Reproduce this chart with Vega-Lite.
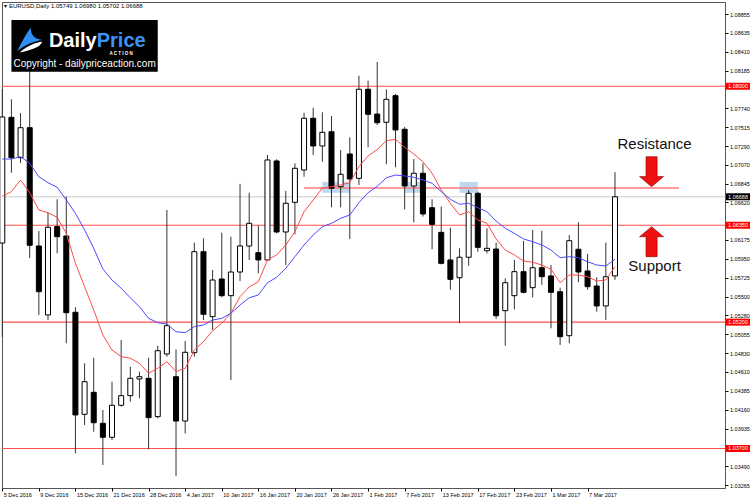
{
  "$schema": "https://vega.github.io/schema/vega-lite/v6.json",
  "width": 723,
  "height": 486,
  "autosize": {"type": "none"},
  "padding": {"left": 2, "top": 2, "right": 25, "bottom": 12},
  "background": "white",
  "config": {
    "view": {"stroke": "#555555", "strokeWidth": 1},
    "font": "Liberation Sans",
    "axis": {"domain": false, "grid": false, "labelFont": "Liberation Sans", "labelOverlap": false, "labelBound": false, "labelFlush": false},
    "text": {"font": "Liberation Sans"}
  },
  "datasets": {
    "ohlc": [
      {"d": "5 Dec 2016", "o": 1.06139, "h": 1.07967, "l": 1.05024, "c": 1.07635, "f": 1.06694, "s": 1.07136},
      {"d": "6 Dec 2016", "o": 1.07631, "h": 1.07845, "l": 1.06974, "c": 1.07152, "f": 1.06748, "s": 1.07136},
      {"d": "7 Dec 2016", "o": 1.07152, "h": 1.07682, "l": 1.07089, "c": 1.07508, "f": 1.06887, "s": 1.07164},
      {"d": "8 Dec 2016", "o": 1.07508, "h": 1.0874, "l": 1.05961, "c": 1.06112, "f": 1.06736, "s": 1.07085},
      {"d": "9 Dec 2016", "o": 1.06104, "h": 1.06282, "l": 1.05285, "c": 1.05561, "f": 1.06531, "s": 1.06926},
      {"d": "12 Dec 2016", "o": 1.05285, "h": 1.06499, "l": 1.05225, "c": 1.06326, "f": 1.06499, "s": 1.06855},
      {"d": "13 Dec 2016", "o": 1.06333, "h": 1.06658, "l": 1.06017, "c": 1.06214, "f": 1.06444, "s": 1.06801},
      {"d": "14 Dec 2016", "o": 1.06222, "h": 1.06689, "l": 1.04949, "c": 1.05312, "f": 1.06254, "s": 1.0665},
      {"d": "15 Dec 2016", "o": 1.05317, "h": 1.05376, "l": 1.03643, "c": 1.04098, "f": 1.05898, "s": 1.06492},
      {"d": "16 Dec 2016", "o": 1.04106, "h": 1.04711, "l": 1.03979, "c": 1.04493, "f": 1.05621, "s": 1.06294},
      {"d": "19 Dec 2016", "o": 1.04367, "h": 1.04778, "l": 1.03899, "c": 1.04006, "f": 1.05344, "s": 1.06076},
      {"d": "20 Dec 2016", "o": 1.03999, "h": 1.04157, "l": 1.03504, "c": 1.03833, "f": 1.05047, "s": 1.05831},
      {"d": "21 Dec 2016", "o": 1.03833, "h": 1.04493, "l": 1.03801, "c": 1.04213, "f": 1.04869, "s": 1.057},
      {"d": "22 Dec 2016", "o": 1.04213, "h": 1.04988, "l": 1.04196, "c": 1.04327, "f": 1.0479, "s": 1.05602},
      {"d": "23 Dec 2016", "o": 1.04327, "h": 1.04671, "l": 1.04256, "c": 1.04533, "f": 1.04771, "s": 1.05489},
      {"d": "27 Dec 2016", "o": 1.04525, "h": 1.04612, "l": 1.04296, "c": 1.04552, "f": 1.04711, "s": 1.05383},
      {"d": "28 Dec 2016", "o": 1.04533, "h": 1.04778, "l": 1.03691, "c": 1.04066, "f": 1.04593, "s": 1.05245},
      {"d": "29 Dec 2016", "o": 1.04078, "h": 1.0492, "l": 1.04059, "c": 1.04861, "f": 1.04652, "s": 1.05193},
      {"d": "30 Dec 2016", "o": 1.04822, "h": 1.06531, "l": 1.0479, "c": 1.05158, "f": 1.0473, "s": 1.05178},
      {"d": "3 Jan 2017", "o": 1.04552, "h": 1.04877, "l": 1.03374, "c": 1.04026, "f": 1.04612, "s": 1.05086},
      {"d": "4 Jan 2017", "o": 1.04026, "h": 1.04976, "l": 1.0388, "c": 1.04842, "f": 1.04652, "s": 1.05075},
      {"d": "5 Jan 2017", "o": 1.04837, "h": 1.06143, "l": 1.0479, "c": 1.06036, "f": 1.04869, "s": 1.05146},
      {"d": "6 Jan 2017", "o": 1.06036, "h": 1.06195, "l": 1.05225, "c": 1.05293, "f": 1.04968, "s": 1.05166},
      {"d": "9 Jan 2017", "o": 1.05265, "h": 1.05819, "l": 1.05107, "c": 1.057, "f": 1.05098, "s": 1.05225},
      {"d": "10 Jan 2017", "o": 1.05712, "h": 1.06262, "l": 1.05495, "c": 1.05514, "f": 1.05186, "s": 1.05245},
      {"d": "11 Jan 2017", "o": 1.05514, "h": 1.06214, "l": 1.04513, "c": 1.05795, "f": 1.05305, "s": 1.05305},
      {"d": "12 Jan 2017", "o": 1.05795, "h": 1.0684, "l": 1.05688, "c": 1.06104, "f": 1.05502, "s": 1.05403},
      {"d": "13 Jan 2017", "o": 1.06104, "h": 1.06736, "l": 1.05938, "c": 1.06373, "f": 1.05617, "s": 1.05489},
      {"d": "16 Jan 2017", "o": 1.06024, "h": 1.06345, "l": 1.0578, "c": 1.05938, "f": 1.0568, "s": 1.05522},
      {"d": "17 Jan 2017", "o": 1.05938, "h": 1.07184, "l": 1.05926, "c": 1.07125, "f": 1.05938, "s": 1.05668},
      {"d": "18 Jan 2017", "o": 1.07113, "h": 1.07133, "l": 1.06254, "c": 1.0627, "f": 1.05997, "s": 1.05732},
      {"d": "19 Jan 2017", "o": 1.0627, "h": 1.06757, "l": 1.05878, "c": 1.06611, "f": 1.06116, "s": 1.05839},
      {"d": "20 Jan 2017", "o": 1.06622, "h": 1.07085, "l": 1.06243, "c": 1.07026, "f": 1.06273, "s": 1.05977},
      {"d": "23 Jan 2017", "o": 1.07006, "h": 1.07686, "l": 1.06926, "c": 1.0762, "f": 1.06511, "s": 1.06116},
      {"d": "24 Jan 2017", "o": 1.0762, "h": 1.07745, "l": 1.07184, "c": 1.07291, "f": 1.0665, "s": 1.06234},
      {"d": "25 Jan 2017", "o": 1.07291, "h": 1.07691, "l": 1.07104, "c": 1.07453, "f": 1.0679, "s": 1.06333},
      {"d": "26 Jan 2017", "o": 1.0746, "h": 1.07647, "l": 1.06563, "c": 1.06789, "f": 1.06808, "s": 1.06373},
      {"d": "27 Jan 2017", "o": 1.06808, "h": 1.07243, "l": 1.06563, "c": 1.06955, "f": 1.06828, "s": 1.06432},
      {"d": "30 Jan 2017", "o": 1.07196, "h": 1.07394, "l": 1.06187, "c": 1.06899, "f": 1.06855, "s": 1.06472},
      {"d": "31 Jan 2017", "o": 1.06907, "h": 1.08125, "l": 1.06828, "c": 1.07964, "f": 1.07045, "s": 1.06618},
      {"d": "1 Feb 2017", "o": 1.07964, "h": 1.08066, "l": 1.07275, "c": 1.07667, "f": 1.07172, "s": 1.06736},
      {"d": "2 Feb 2017", "o": 1.0767, "h": 1.08288, "l": 1.0754, "c": 1.07567, "f": 1.07249, "s": 1.06812},
      {"d": "3 Feb 2017", "o": 1.07572, "h": 1.07964, "l": 1.07074, "c": 1.07845, "f": 1.07354, "s": 1.06914},
      {"d": "6 Feb 2017", "o": 1.07888, "h": 1.07908, "l": 1.07038, "c": 1.07481, "f": 1.0737, "s": 1.06946},
      {"d": "7 Feb 2017", "o": 1.07489, "h": 1.07516, "l": 1.06539, "c": 1.06816, "f": 1.07275, "s": 1.06935},
      {"d": "8 Feb 2017", "o": 1.06816, "h": 1.07136, "l": 1.06385, "c": 1.06967, "f": 1.07196, "s": 1.06919},
      {"d": "9 Feb 2017", "o": 1.06967, "h": 1.07085, "l": 1.06452, "c": 1.06484, "f": 1.07104, "s": 1.06887},
      {"d": "10 Feb 2017", "o": 1.06558, "h": 1.06658, "l": 1.06065, "c": 1.06361, "f": 1.06967, "s": 1.06848},
      {"d": "13 Feb 2017", "o": 1.06266, "h": 1.0657, "l": 1.05885, "c": 1.05898, "f": 1.06768, "s": 1.06748},
      {"d": "14 Feb 2017", "o": 1.05938, "h": 1.06321, "l": 1.05585, "c": 1.05708, "f": 1.06611, "s": 1.06658},
      {"d": "15 Feb 2017", "o": 1.05727, "h": 1.06076, "l": 1.05186, "c": 1.0597, "f": 1.06472, "s": 1.06599},
      {"d": "16 Feb 2017", "o": 1.0597, "h": 1.06768, "l": 1.0587, "c": 1.06729, "f": 1.06511, "s": 1.06611},
      {"d": "17 Feb 2017", "o": 1.06729, "h": 1.06748, "l": 1.06036, "c": 1.06088, "f": 1.06412, "s": 1.06558},
      {"d": "20 Feb 2017", "o": 1.06048, "h": 1.06314, "l": 1.06017, "c": 1.06076, "f": 1.06373, "s": 1.06511},
      {"d": "21 Feb 2017", "o": 1.06068, "h": 1.06143, "l": 1.05237, "c": 1.05276, "f": 1.06187, "s": 1.064},
      {"d": "22 Feb 2017", "o": 1.05336, "h": 1.0572, "l": 1.0492, "c": 1.05668, "f": 1.06056, "s": 1.06314},
      {"d": "23 Feb 2017", "o": 1.05514, "h": 1.05938, "l": 1.05352, "c": 1.05799, "f": 1.05997, "s": 1.06254},
      {"d": "24 Feb 2017", "o": 1.05799, "h": 1.06163, "l": 1.05542, "c": 1.05554, "f": 1.05926, "s": 1.06187},
      {"d": "27 Feb 2017", "o": 1.05609, "h": 1.06294, "l": 1.05495, "c": 1.05846, "f": 1.0591, "s": 1.06155},
      {"d": "28 Feb 2017", "o": 1.05846, "h": 1.06285, "l": 1.05641, "c": 1.05739, "f": 1.05878, "s": 1.06116},
      {"d": "1 Mar 2017", "o": 1.05748, "h": 1.05878, "l": 1.05127, "c": 1.05554, "f": 1.05827, "s": 1.06056},
      {"d": "2 Mar 2017", "o": 1.05561, "h": 1.05609, "l": 1.04929, "c": 1.05027, "f": 1.05668, "s": 1.05965},
      {"d": "3 Mar 2017", "o": 1.05039, "h": 1.06234, "l": 1.04949, "c": 1.06167, "f": 1.05759, "s": 1.05977},
      {"d": "6 Mar 2017", "o": 1.06065, "h": 1.06385, "l": 1.05673, "c": 1.05795, "f": 1.05759, "s": 1.05965},
      {"d": "7 Mar 2017", "o": 1.05807, "h": 1.06009, "l": 1.05585, "c": 1.05621, "f": 1.05739, "s": 1.05917},
      {"d": "8 Mar 2017", "o": 1.05629, "h": 1.05732, "l": 1.05324, "c": 1.05392, "f": 1.05688, "s": 1.05878},
      {"d": "9 Mar 2017", "o": 1.05392, "h": 1.06143, "l": 1.05225, "c": 1.05739, "f": 1.057, "s": 1.05866},
      {"d": "10 Mar 2017", "o": 1.05749, "h": 1.0698, "l": 1.05702, "c": 1.06688, "f": 1.05858, "s": 1.05946}
    ]
  },
  "resolve": {"scale": {"x": "independent"}},
  "layer": [
    {
      "layer": [
        {
          "data": {"values": [{"lv": 1.08}, {"lv": 1.0635}, {"lv": 1.052}, {"lv": 1.037}]},
          "mark": {"type": "rule", "color": "#ff4d4d", "strokeWidth": 1.2},
          "encoding": {"y": {"field": "lv", "type": "quantitative", "title": null}}
        },
        {
          "data": {"values": [{}]},
          "mark": {"type": "rule", "color": "#cccccc", "strokeWidth": 1},
          "encoding": {"y": {"datum": 1.06688, "title": null}}
        },
        {
          "data": {"values": [{"a": "25 Jan 2017", "b": "30 Jan 2017"}, {"a": "7 Feb 2017", "b": "9 Feb 2017"}, {"a": "15 Feb 2017", "b": "17 Feb 2017"}]},
          "mark": {"type": "rect", "color": "#bdd9f1"},
          "encoding": {
            "x": {"field": "a", "type": "ordinal", "title": null},
            "x2": {"field": "b"},
            "y": {"datum": 1.06865, "title": null},
            "y2": {"datum": 1.06735}
          }
        },
        {
          "data": {"values": [{}]},
          "mark": {"type": "rule", "color": "#ff7a7a", "strokeWidth": 1.3},
          "encoding": {
            "x": {"datum": "23 Jan 2017", "type": "ordinal", "title": null},
            "x2": {"datum": "21 Mar 2017"},
            "y": {"datum": 1.06792, "title": null}
          }
        },
        {
          "data": {"name": "ohlc"},
          "mark": {"type": "rule", "color": "#333333", "strokeWidth": 1},
          "encoding": {
            "x": {
              "field": "d", "type": "ordinal", "title": null,
              "scale": {
                "type": "point", "padding": 0.03, "round": false,
                "domain": ["5 Dec 2016","6 Dec 2016","7 Dec 2016","8 Dec 2016","9 Dec 2016","12 Dec 2016","13 Dec 2016","14 Dec 2016","15 Dec 2016","16 Dec 2016","19 Dec 2016","20 Dec 2016","21 Dec 2016","22 Dec 2016","23 Dec 2016","27 Dec 2016","28 Dec 2016","29 Dec 2016","30 Dec 2016","3 Jan 2017","4 Jan 2017","5 Jan 2017","6 Jan 2017","9 Jan 2017","10 Jan 2017","11 Jan 2017","12 Jan 2017","13 Jan 2017","16 Jan 2017","17 Jan 2017","18 Jan 2017","19 Jan 2017","20 Jan 2017","23 Jan 2017","24 Jan 2017","25 Jan 2017","26 Jan 2017","27 Jan 2017","30 Jan 2017","31 Jan 2017","1 Feb 2017","2 Feb 2017","3 Feb 2017","6 Feb 2017","7 Feb 2017","8 Feb 2017","9 Feb 2017","10 Feb 2017","13 Feb 2017","14 Feb 2017","15 Feb 2017","16 Feb 2017","17 Feb 2017","20 Feb 2017","21 Feb 2017","22 Feb 2017","23 Feb 2017","24 Feb 2017","27 Feb 2017","28 Feb 2017","1 Mar 2017","2 Mar 2017","3 Mar 2017","6 Mar 2017","7 Mar 2017","8 Mar 2017","9 Mar 2017","10 Mar 2017","13 Mar 2017","14 Mar 2017","15 Mar 2017","16 Mar 2017","17 Mar 2017","20 Mar 2017","21 Mar 2017","22 Mar 2017","23 Mar 2017","24 Mar 2017","27 Mar 2017","28 Mar 2017"]
              },
              "axis": {
                "values": ["5 Dec 2016","9 Dec 2016","15 Dec 2016","21 Dec 2016","28 Dec 2016","4 Jan 2017","10 Jan 2017","16 Jan 2017","20 Jan 2017","26 Jan 2017","1 Feb 2017","7 Feb 2017","13 Feb 2017","17 Feb 2017","23 Feb 2017","1 Mar 2017","7 Mar 2017"],
                "labelAlign": "left", "labelBaseline": "top", "labelPadding": 1, "labelOffset": 1,
                "tickSize": 3, "labelFontSize": 5.5, "labelAngle": 0, "labelColor": "#000000",
                "tickColor": "#000000", "labelOverlap": false, "labelBound": false, "labelFlush": false, "tickCount": 100
              }
            },
            "y": {
              "field": "l", "type": "quantitative", "title": null,
              "scale": {"domain": [1.03231, 1.09], "nice": false, "zero": false},
              "axis": {
                "orient": "right",
                "values": [1.08855,1.08635,1.0841,1.08185,1.0774,1.07515,1.0729,1.0707,1.06845,1.0662,1.06175,1.0595,1.05725,1.055,1.0528,1.05055,1.0483,1.0461,1.04385,1.0416,1.03935,1.0349,1.03265],
                "tickCount": 100,
                "format": ".5f", "labelFontSize": 5.5, "tickSize": 3, "labelPadding": 1.5,
                "labelColor": "#000000", "tickColor": "#000000", "labelOverlap": false, "labelBound": false, "labelFlush": false
              }
            },
            "y2": {"field": "h"}
          }
        },
        {
          "data": {"name": "ohlc"},
          "mark": {"type": "bar", "size": 5, "stroke": "#000000", "strokeWidth": 1},
          "encoding": {
            "x": {"field": "d", "type": "ordinal", "title": null},
            "y": {"field": "o", "type": "quantitative", "title": null},
            "y2": {"field": "c"},
            "fill": {"condition": {"test": "datum.c >= datum.o", "value": "#ffffff"}, "value": "#000000"}
          }
        },
        {
          "data": {"name": "ohlc"},
          "mark": {"type": "line", "color": "#ff4a4a", "strokeWidth": 1},
          "encoding": {
            "x": {"field": "d", "type": "ordinal", "title": null},
            "y": {"field": "f", "type": "quantitative", "title": null}
          }
        },
        {
          "data": {"name": "ohlc"},
          "mark": {"type": "line", "color": "#4a4aff", "strokeWidth": 1},
          "encoding": {
            "x": {"field": "d", "type": "ordinal", "title": null},
            "y": {"field": "s", "type": "quantitative", "title": null}
          }
        },
        {
          "data": {"values": [{}]},
          "mark": {"type": "rect", "color": "#000000"},
          "encoding": {
            "x": {"datum": "6 Dec 2016", "type": "ordinal", "title": null},
            "x2": {"datum": "29 Dec 2016"},
            "y": {"datum": 1.08786, "title": null},
            "y2": {"datum": 1.08173}
          }
        },
        {
          "data": {"values": [{}]},
          "mark": {"type": "point", "shape": "M-1,0.9 C-0.7,0.3 -0.3,-0.5 0.1,-1 C0.05,-0.5 0.3,-0.1 1,0 C0.3,0.1 -0.4,0.4 -1,0.9 Z", "filled": true, "color": "#2f8ff5", "size": 625, "opacity": 1},
          "encoding": {
            "x": {"datum": "8 Dec 2016", "type": "ordinal", "title": null},
            "y": {"datum": 1.08549, "title": null}
          }
        },
        {
          "data": {"values": [{}]},
          "mark": {"type": "point", "shape": "M-0.8,1 C-0.2,0.45 0.5,0.2 1,0.15 C0.9,0.5 0.3,0.8 -0.8,1 Z", "filled": true, "color": "#ffffff", "size": 625, "opacity": 1},
          "encoding": {
            "x": {"datum": "8 Dec 2016", "type": "ordinal", "title": null},
            "y": {"datum": 1.08549, "title": null}
          }
        },
        {
          "data": {"values": [{}]},
          "mark": {"type": "text", "text": "Daily", "align": "right", "baseline": "alphabetic", "dx": 3, "fontSize": 20, "fontWeight": "bold", "color": "#ffffff"},
          "encoding": {
            "x": {"datum": "19 Dec 2016", "type": "ordinal", "title": null},
            "y": {"datum": 1.08466, "title": null}
          }
        },
        {
          "data": {"values": [{}]},
          "mark": {"type": "text", "text": "Price", "align": "left", "baseline": "alphabetic", "dx": 3, "fontSize": 20, "fontWeight": "bold", "color": "#3b95f5"},
          "encoding": {
            "x": {"datum": "19 Dec 2016", "type": "ordinal", "title": null},
            "y": {"datum": 1.08466, "title": null}
          }
        },
        {
          "data": {"values": [{}]},
          "mark": {"type": "text", "text": "A C T I O N", "align": "center", "baseline": "alphabetic", "fontSize": 4.5, "fontWeight": "bold", "color": "#ffffff"},
          "encoding": {
            "x": {"datum": "22 Dec 2016", "type": "ordinal", "title": null},
            "y": {"datum": 1.08372, "title": null}
          }
        },
        {
          "data": {"values": [{}]},
          "mark": {"type": "text", "text": "Copyright - dailypriceaction.com", "align": "center", "baseline": "alphabetic", "fontSize": 10, "color": "#ffffff"},
          "encoding": {
            "x": {"datum": "16 Dec 2016", "type": "ordinal", "title": null},
            "y": {"datum": 1.08228, "title": null}
          }
        },
        {
          "data": {"values": [{}]},
          "mark": {"type": "text", "text": "▾ EURUSD,Daily  1.05749 1.06980 1.05702 1.06688", "align": "left", "baseline": "middle", "dx": 2, "fontSize": 6, "color": "#000000"},
          "encoding": {
            "x": {"datum": "5 Dec 2016", "type": "ordinal", "title": null},
            "y": {"datum": 1.08953, "title": null}
          }
        },
        {
          "data": {"values": [{}]},
          "mark": {"type": "text", "text": "Resistance", "align": "center", "baseline": "alphabetic", "dx": 3, "fontSize": 15, "color": "#111111"},
          "encoding": {
            "x": {"datum": "16 Mar 2017", "type": "ordinal", "title": null},
            "y": {"datum": 1.07255, "title": null}
          }
        },
        {
          "data": {"values": [{}]},
          "mark": {"type": "text", "text": "Support", "align": "center", "baseline": "alphabetic", "dx": 3, "fontSize": 15, "color": "#111111"},
          "encoding": {
            "x": {"datum": "16 Mar 2017", "type": "ordinal", "title": null},
            "y": {"datum": 1.0581, "title": null}
          }
        },
        {
          "data": {"values": [{}]},
          "mark": {"type": "point", "shape": "M-0.37,-1 L0.37,-1 L0.37,0.33 L0.8,0.33 L0,1 L-0.8,0.33 L-0.37,0.33 Z", "filled": true, "color": "#ee1111", "stroke": "#8a0000", "strokeWidth": 0.6, "size": 900, "opacity": 1},
          "encoding": {
            "x": {"datum": "16 Mar 2017", "type": "ordinal", "title": null},
            "y": {"datum": 1.06986, "title": null}
          }
        },
        {
          "data": {"values": [{}]},
          "mark": {"type": "point", "shape": "M-0.37,1 L0.37,1 L0.37,-0.33 L0.8,-0.33 L0,-1 L-0.8,-0.33 L-0.37,-0.33 Z", "filled": true, "color": "#ee1111", "stroke": "#8a0000", "strokeWidth": 0.6, "size": 900, "opacity": 1},
          "encoding": {
            "x": {"datum": "16 Mar 2017", "type": "ordinal", "title": null},
            "y": {"datum": 1.06155, "title": null}
          }
        }
      ]
    },
    {
      "data": {"values": [{"lv": 1.08}, {"lv": 1.0635}, {"lv": 1.052}, {"lv": 1.037}, {"lv": 1.06688}]},
      "encoding": {
        "x": {"datum": 1.018, "type": "quantitative", "scale": {"domain": [0, 1]}, "axis": null},
        "y": {"field": "lv", "type": "quantitative", "title": null}
      },
      "layer": [
        {
          "mark": {"type": "tick", "orient": "horizontal", "size": 24, "thickness": 7, "opacity": 1},
          "encoding": {"color": {"condition": {"test": "datum.lv == 1.06688", "value": "#000000"}, "value": "#ff0000"}}
        },
        {
          "mark": {"type": "text", "fontSize": 5.5, "color": "#ffffff", "baseline": "middle", "align": "center"},
          "encoding": {"text": {"field": "lv", "type": "quantitative", "format": ".5f"}}
        }
      ]
    }
  ]
}
